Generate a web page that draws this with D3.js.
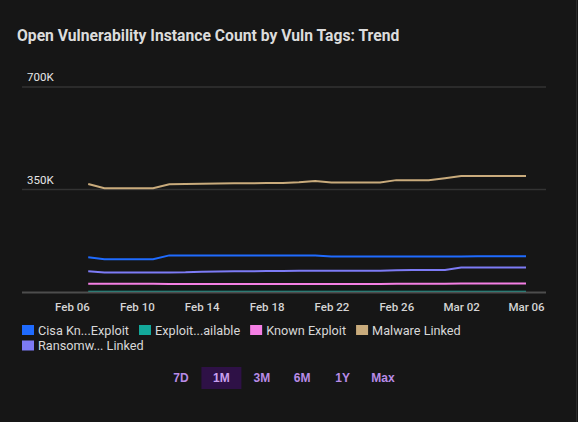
<!DOCTYPE html>
<html>
<head>
<meta charset="utf-8">
<script src="https://cdn.jsdelivr.net/npm/d3@7"></script>
<style>
  html, body { margin: 0; padding: 0; background: #161616; }
  svg { display: block; font-family: Roboto, "Noto Sans", sans-serif; }
</style>
</head>
<body>
<div id="chart"></div>
<script>
// dates Feb 07 .. Mar 06 (2025)
const dates = d3.timeDays(new Date(2025, 1, 7), new Date(2025, 2, 7));

const seriesNames = ["Cisa Kn...Exploit", "Exploit...ailable", "Known Exploit", "Malware Linked", "Ransomw... Linked"];
const seriesColors = ["#1f6bff", "#13a89a", "#f47fe4", "#c9ab7c", "#7d7bf5"];

// values in thousands, one per day
const cisaKnownExploit = [119, 112, 112, 112, 112, 125, 125, 125, 125, 125, 125, 125, 125, 125, 125, 121, 121, 121, 121, 121, 121, 121, 121, 121, 122, 122, 122, 122];
const exploitAvailable = [1, 1, 1, 1, 1, 1, 1, 1, 1, 1, 1, 1, 1, 1, 1, 1, 1, 1, 1, 1, 1, 1, 1, 1, 1, 1, 1, 1];
const knownExploit = [28, 28, 28, 28, 28, 27.5, 27.5, 27.5, 27.5, 27.5, 27.5, 27.5, 27.5, 27.5, 27.5, 27.5, 27.5, 27.5, 27.5, 28, 28, 28, 28.5, 29, 29, 29, 29, 29];
const malwareLinked = [369, 354, 354, 354, 354, 368, 369, 370, 370.5, 371, 371.5, 372, 372.5, 375, 379, 374, 374, 374, 374, 382, 382, 382, 388.5, 396, 396, 396, 396, 396];
const ransomwareLinked = [70.5, 67, 67, 67, 67, 67, 67.5, 69.5, 70, 70.5, 71, 71.5, 72, 72.5, 72.5, 72.5, 72.5, 72.5, 72.5, 74, 75, 75, 75, 84, 84, 84, 84, 84];

const yTicks = [350, 700];
const xTickDates = d3.timeDays(new Date(2025, 1, 6), new Date(2025, 2, 7), 4);
const ranges = ["7D", "1M", "3M", "6M", "1Y", "Max"];
const activeRange = "1M";

const seriesValues = [cisaKnownExploit, exploitAvailable, knownExploit, malwareLinked, ransomwareLinked];
const series = seriesNames.map((name, i) => ({
    name: name,
    color: seriesColors[i],
    values: seriesValues[i].map((v, j) => ({ date: dates[j], value: v }))
}));

const W = 578, H = 422;
const svg = d3.select("#chart").append("svg")
    .attr("width", W)
    .attr("height", H);

// right card edge
svg.append("line")
    .attr("x1", W - 1.5).attr("x2", W - 1.5)
    .attr("y1", 0).attr("y2", H)
    .attr("stroke", "#2a2a2a");

// title
svg.append("text")
    .attr("x", 17).attr("y", 41)
    .attr("fill", "#dcdcdc")
    .attr("font-size", 15.7)
    .attr("font-weight", 700)
    .text("Open Vulnerability Instance Count by Vuln Tags: Trend");

// scales
const x = d3.scaleTime()
    .domain([new Date(2025, 1, 6), new Date(2025, 2, 6)])
    .range([72, 526]);

const y = d3.scaleLinear()
    .domain([0, 700])
    .range([292, 87]);

const gridLeft = 22, gridRight = 546;

// grid lines
svg.append("g").selectAll("line")
    .data(yTicks)
    .join("line")
    .attr("x1", gridLeft).attr("x2", gridRight)
    .attr("y1", d => y(d)).attr("y2", d => y(d))
    .attr("stroke", "#333")
    .attr("stroke-width", 1.5);

svg.append("g").selectAll("text")
    .data(yTicks)
    .join("text")
    .attr("x", 27).attr("y", d => y(d) - 6)
    .attr("fill", "#e6e6e6")
    .attr("font-size", 11.5)
    .text(d => d + "K");

// x axis
const xAxis = d3.axisBottom(x)
    .tickValues(xTickDates)
    .tickFormat(d3.timeFormat("%b %d"))
    .tickSize(0)
    .tickPadding(11);

const xg = svg.append("g")
    .attr("transform", `translate(0, ${y(0)})`)
    .call(xAxis);
xg.select(".domain").remove();
xg.selectAll("text")
    .attr("fill", "#d4d4d4")
    .attr("font-size", 11.5)
    .attr("font-weight", 500)
    .attr("font-family", "Roboto, sans-serif");

// lines
const line = d3.line()
    .x(d => x(d.date))
    .y(d => y(d.value));

svg.append("g").selectAll("path")
    .data(series)
    .join("path")
    .attr("fill", "none")
    .attr("stroke", d => d.color)
    .attr("stroke-width", 2)
    .attr("d", d => line(d.values));

// zero baseline drawn on top
svg.append("line")
    .attr("x1", gridLeft).attr("x2", gridRight)
    .attr("y1", y(0) + 0.5).attr("y2", y(0) + 0.5)
    .attr("stroke", "#4d4d4d")
    .attr("stroke-width", 2);

// legend
const legend = svg.append("g");
let lx = 22, ly = 325;
series.forEach(s => {
    const item = legend.append("g");
    item.append("rect")
        .attr("width", 12).attr("height", 10)
        .attr("fill", s.color);
    const t = item.append("text")
        .attr("x", 16).attr("y", 9.5)
        .attr("fill", "#d8d8d8")
        .attr("font-size", 12.7)
        .text(s.name);
    const w = 16 + t.node().getComputedTextLength();
    if (lx + w > 470) { lx = 22; ly += 15.5; }
    item.attr("transform", `translate(${lx}, ${ly})`);
    lx += w + 10;
});

// range buttons
const btnX = d3.scalePoint()
    .domain(ranges)
    .range([181, 383]);

const btn = svg.append("g").selectAll("g")
    .data(ranges)
    .join("g")
    .attr("transform", d => `translate(${btnX(d)}, 378)`);

btn.filter(d => d === activeRange)
    .append("rect")
    .attr("x", -20).attr("y", -11)
    .attr("width", 40).attr("height", 22)
    .attr("fill", "#2e1146");

btn.append("text")
    .attr("text-anchor", "middle")
    .attr("y", 4)
    .attr("fill", d => d === activeRange ? "#c9a0f0" : "#b88be6")
    .attr("font-size", 12)
    .attr("font-weight", 700)
    .attr("font-family", "Liberation Sans, Arial, sans-serif")
    .text(d => d);
</script>
</body>
</html>
